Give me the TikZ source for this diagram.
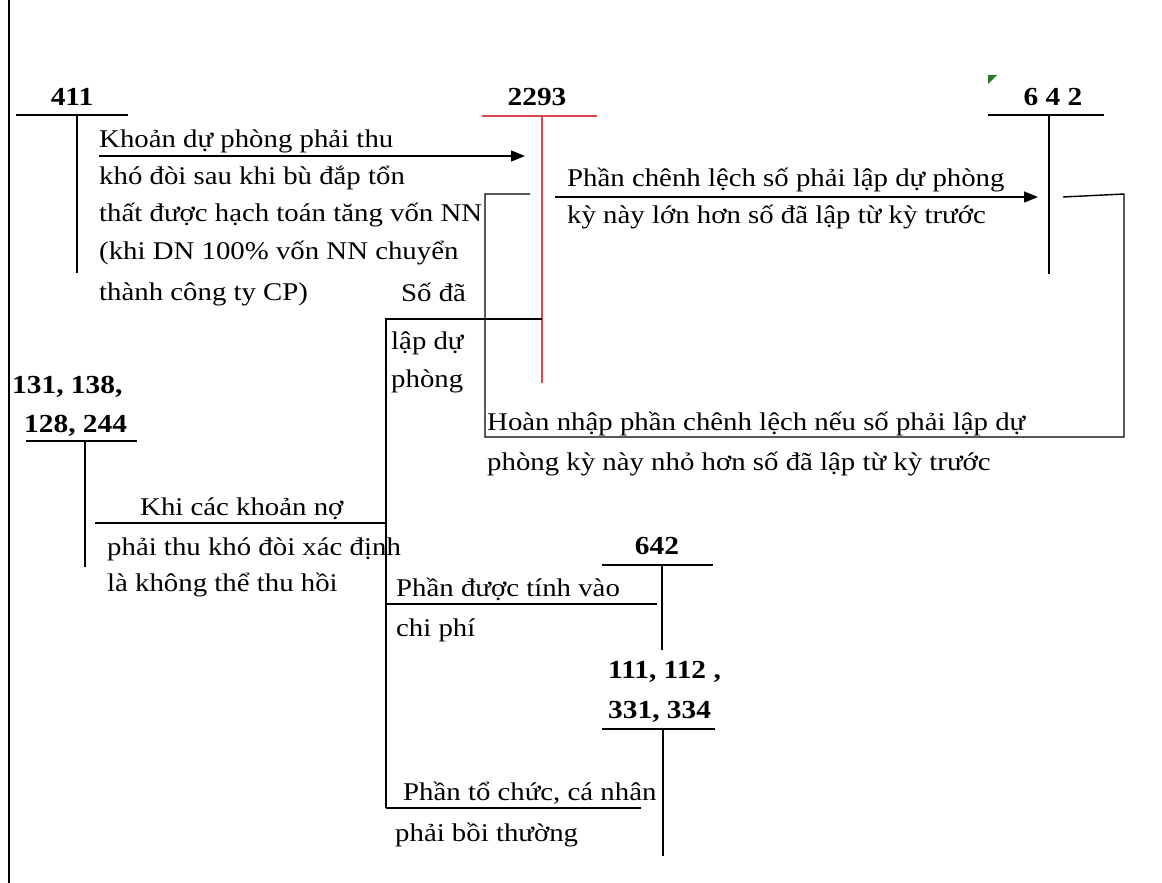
\documentclass[tikz,border=0pt]{standalone}
\usepackage{fontspec}
\setmainfont{Liberation Serif}[FakeStretch=1.13]
\usetikzlibrary{arrows.meta}
\definecolor{acred}{RGB}{214,72,80}
\definecolor{mkgreen}{RGB}{40,120,40}
\begin{document}
\begin{tikzpicture}[x=1pt,y=-1pt,
  txt/.style={font=\fontsize{25.5}{30}\selectfont, inner sep=0pt, anchor=base west},
  acct/.style={font=\fontsize{26}{30}\selectfont\bfseries, inner sep=0pt, anchor=base},
  acctw/.style={acct, anchor=base west},
  ln/.style={line width=1.4pt, black},
  redln/.style={line width=1.4pt, acred},
  arr/.style={ln, -{Triangle[length=14pt,width=11pt]}}]
\useasboundingbox (0,0) rectangle (1162,883);
% left border
\coordinate (bt) at (9,0); \coordinate (bb) at (9,883);
\draw[ln] (bt) -- (bb);

% account 411
\node[acct] (a411) at (72,106) {411};
\coordinate (a411l) at (16,115); \coordinate (a411r) at (128,115);
\coordinate (a411t) at (77,115); \coordinate (a411b) at (77,273);
\draw[ln] (a411l) -- (a411r); \draw[ln] (a411t) -- (a411b);

% account 2293 (red)
\node[acct] (a2293) at (537,106) {2293};
\coordinate (a2293l) at (482,116); \coordinate (a2293r) at (597,116);
\coordinate (a2293t) at (542,116); \coordinate (a2293b) at (542,383);
\draw[redln] (a2293l) -- (a2293r); \draw[redln] (a2293t) -- (a2293b);

% account 642 (top)
\node[acct] (a642) at (1053,106) {6 4 2};
\coordinate (a642l) at (988,115); \coordinate (a642r) at (1104,115);
\coordinate (a642t) at (1049,115); \coordinate (a642b) at (1049,274);
\draw[ln] (a642l) -- (a642r); \draw[ln] (a642t) -- (a642b);
\fill[mkgreen] (988,75) -- (997,75) -- (988,84) -- cycle;

% text 411 -> 2293
\node[txt] (t1a) at (99,147) {Khoản dự phòng phải thu};
\node[txt] (t1b) at (99,184) {khó đòi sau khi bù đắp tổn};
\node[txt] (t1c) at (99,221) {thất được hạch toán tăng vốn NN};
\node[txt] (t1d) at (99,259) {(khi DN 100\% vốn NN chuyển};
\node[txt] (t1e) at (99,300) {thành công ty CP)};
\coordinate (ar1s) at (99,156); \coordinate (ar1e) at (525,156);
\draw[arr] (ar1s) -- (ar1e);

% 2293 -> 642
\node[txt] (t2a) at (567,186) {Phần chênh lệch số phải lập dự phòng};
\node[txt] (t2b) at (567,223) {kỳ này lớn hơn số đã lập từ kỳ trước};
\coordinate (ar2s) at (555,197); \coordinate (ar2e) at (1038,197);
\draw[arr] (ar2s) -- (ar2e);

% 642 -> 2293 (reversal)
\coordinate (r1) at (1063,197); \coordinate (r2) at (1124,194);
\coordinate (r3) at (1124,437); \coordinate (r4) at (485,437);
\coordinate (r5) at (485,194); \coordinate (r6) at (530,194);
\draw[ln] (r1) -- (r2) -- (r3) -- (r4) -- (r5) -- (r6);
\node[txt] (t3a) at (487,430) {Hoàn nhập phần chênh lệch nếu số phải lập dự};
\node[txt] (t3b) at (487,470) {phòng kỳ này nhỏ hơn số đã lập từ kỳ trước};

% 2293 -> 131 etc.
\coordinate (s1) at (542,319); \coordinate (s2) at (386,319);
\coordinate (s3) at (386,808);
\draw[ln] (s1) -- (s2) -- (s3);
\node[txt] (t4a) at (401,301) {Số đã};
\node[txt] (t4b) at (391,349) {lập dự};
\node[txt] (t4c) at (391,387) {phòng};

% account 131,138,128,244
\node[acctw] (a131a) at (12,393) {131, 138,};
\node[acctw] (a131b) at (24,432) {128, 244};
\coordinate (a131l) at (26,441); \coordinate (a131r) at (137,441);
\coordinate (a131t) at (85,441); \coordinate (a131b2) at (85,567);
\draw[ln] (a131l) -- (a131r); \draw[ln] (a131t) -- (a131b2);
\coordinate (k1) at (95,523); \coordinate (k2) at (386,523);
\draw[ln] (k1) -- (k2);
\node[txt] (t5a) at (140,515) {Khi các khoản nợ};
\node[txt] (t5b) at (107,555) {phải thu khó đòi xác định};
\node[txt] (t5c) at (107,591) {là không thể thu hồi};

% account 642 (bottom)
\node[acct] (b642) at (657,554) {642};
\coordinate (b642l) at (602,565); \coordinate (b642r) at (713,565);
\coordinate (b642t) at (662,565); \coordinate (b642b) at (662,650);
\draw[ln] (b642l) -- (b642r); \draw[ln] (b642t) -- (b642b);
\coordinate (p1) at (386,604); \coordinate (p2) at (657,604);
\draw[ln] (p1) -- (p2);
\node[txt] (t6a) at (396,596) {Phần được tính vào};
\node[txt] (t6b) at (396,636) {chi phí};

% account 111,112,331,334
\node[acctw] (c111a) at (608,678) {111, 112 ,};
\node[acctw] (c111b) at (608,718) {331, 334};
\coordinate (c111l) at (602,729); \coordinate (c111r) at (715,729);
\coordinate (c111t) at (663,729); \coordinate (c111b2) at (663,856);
\draw[ln] (c111l) -- (c111r); \draw[ln] (c111t) -- (c111b2);
\coordinate (q1) at (386,808); \coordinate (q2) at (641,808);
\draw[ln] (q1) -- (q2);
\node[txt] (t7a) at (403,800) {Phần tổ chức, cá nhân};
\node[txt] (t7b) at (395,841) {phải bồi thường};
\end{tikzpicture}
\end{document}
